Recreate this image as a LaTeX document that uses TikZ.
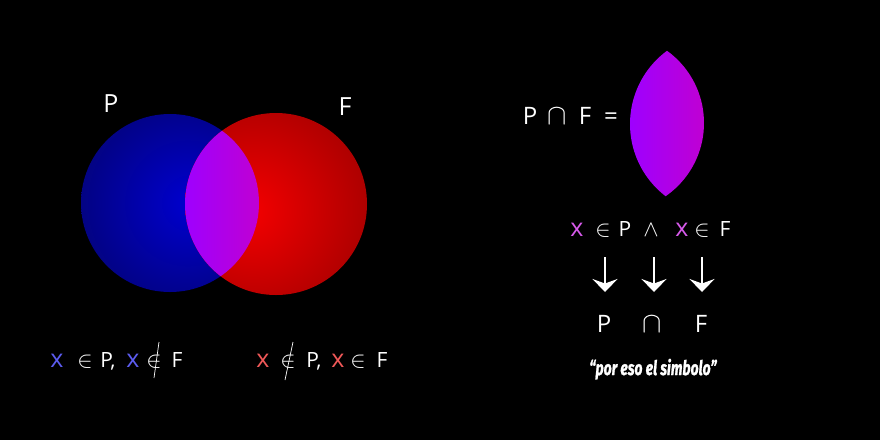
\documentclass[tikz,border=0pt]{standalone}
\usepackage{fix-cm}
\usepackage{graphicx}
\usepackage{fontspec}
\setmainfont{Open Sans}
\newfontfamily\quotefont{Fira Sans}[BoldItalicFeatures={FakeBold=1.5}]
\usetikzlibrary{arrows.meta}
\definecolor{bIn}{RGB}{0,0,200}
\definecolor{bOut}{RGB}{5,5,72}
\definecolor{rIn}{RGB}{238,0,0}
\definecolor{rOut}{RGB}{120,0,0}
\definecolor{lensL}{RGB}{158,0,255}
\definecolor{lensR}{RGB}{192,0,210}
\definecolor{xblue}{RGB}{92,92,240}
\definecolor{xred}{RGB}{240,88,88}
\definecolor{xpink}{RGB}{215,90,235}
\pgfdeclareradialshading{pball}{\pgfpoint{6bp}{0bp}}{color(0bp)=(bIn); color(3bp)=(bIn); color(52bp)=(bOut); color(100bp)=(bOut)}
\pgfdeclareradialshading{fball}{\pgfpoint{-8bp}{-2bp}}{color(0bp)=(rIn); color(3bp)=(rIn); color(54bp)=(rOut); color(100bp)=(rOut)}
\tikzset{
  big/.style={font=\fontsize{25}{28}\selectfont, text=white, inner sep=0pt, anchor=base},
  mid/.style={font=\fontsize{24}{28}\selectfont, text=white, inner sep=0pt, anchor=base},
  small/.style={font=\fontsize{21}{24}\selectfont, text=white, inner sep=0pt, anchor=base},
  xvar/.style={font=\fontsize{25}{28}\selectfont, inner sep=0pt, anchor=base},
  sym/.style={font=\fontsize{23}{26}\selectfont, text=white, inner sep=0pt, anchor=base},
  slash/.style={white, line width=0.7pt},
  downarrow/.style={white, line width=2.6pt, -{Stealth[width=25pt,length=13pt,inset=4.5pt]}},
}
\begin{document}
\begin{tikzpicture}[x=1pt,y=-1pt]
\fill[black] (0,0) rectangle (880,440);
\useasboundingbox (0,0) rectangle (880,440);
% Venn circles
\shade[shading=pball] (170,203) circle (89);
\shade[shading=fball] (276,204) circle (91);
\begin{scope}
  \clip (170,203) circle (89);
  \clip (276,204) circle (91);
  \shade[left color=lensL, right color=lensR] (184,128) rectangle (260,280);
\end{scope}
% labels of circles
\node[big] (lP) at (111,112) {P};
\node[big] (lF) at (345,115) {F};
% right lens
\begin{scope}[shift={(445,-80)}]
  \clip (170,203) circle (89);
  \clip (276,204) circle (91);
  \shade[left color=lensL, right color=lensR] (184,128) rectangle (260,280);
\end{scope}
% P cap F =
\node[mid] (eP) at (530,124) {P};
\node[mid,font=\fontsize{29}{32}\selectfont] (eCap) at (557,124) {$\cap$};
\node[mid] (eF) at (585,124) {F};
\node[mid] (eEq) at (611,124) {=};
% x in P and x in F
\node[xvar,text=xpink] (x1) at (577,236) {x};
\node[sym] (in1) at (603,236) {$\in$};
\node[small] (p1) at (625,236) {P};
\node[sym] (and1) at (651,236) {$\wedge$};
\node[xvar,text=xpink] (x2) at (682,236) {x};
\node[sym] (in2) at (702,236) {$\in$};
\node[small] (f1) at (725,236) {F};
% arrows
\coordinate (a1s) at (605,257); \coordinate (a1e) at (605,292);
\coordinate (a2s) at (654,257); \coordinate (a2e) at (654,292);
\coordinate (a3s) at (702,257); \coordinate (a3e) at (702,292);
\draw[downarrow] (a1s) -- (a1e);
\draw[downarrow] (a2s) -- (a2e);
\draw[downarrow] (a3s) -- (a3e);
% P cap F
\node[mid] (bP) at (604,332) {P};
\node[mid,font=\fontsize{29}{32}\selectfont] (bCap) at (652,332) {$\cap$};
\node[mid] (bF) at (701,332) {F};
% quote
\node[inner sep=0pt, anchor=base, text=white] (quote) at (653,375) {\quotefont\fontsize{20}{22}\selectfont\bfseries\itshape\scalebox{0.70}[1]{\textquotedblleft por eso el simbolo\textquotedblright}};
% bottom left
\node[xvar,text=xblue] (lx1) at (57,367) {x};
\node[sym] (lin1) at (85,367) {$\in$};
\node[small] (lP1) at (108,367) {P,};
\node[xvar,text=xblue] (lx2) at (133,367) {x};
\node[sym] (lin2) at (154,367) {$\in$};
\node[small] (lF1) at (177,367) {F};
\coordinate (ls1) at (159,342); \coordinate (ls2) at (154,378);
\draw[slash] (ls1) -- (ls2);
% bottom right
\node[xvar,text=xred] (rx1) at (263,367) {x};
\node[sym] (rin1) at (288,367) {$\in$};
\node[small] (rP1) at (314,367) {P,};
\node[xvar,text=xred] (rx2) at (338,367) {x};
\node[sym] (rin2) at (358,367) {$\in$};
\node[small] (rF1) at (382,367) {F};
\coordinate (rs1) at (293,342); \coordinate (rs2) at (285,380);
\draw[slash] (rs1) -- (rs2);
\end{tikzpicture}
\end{document}
